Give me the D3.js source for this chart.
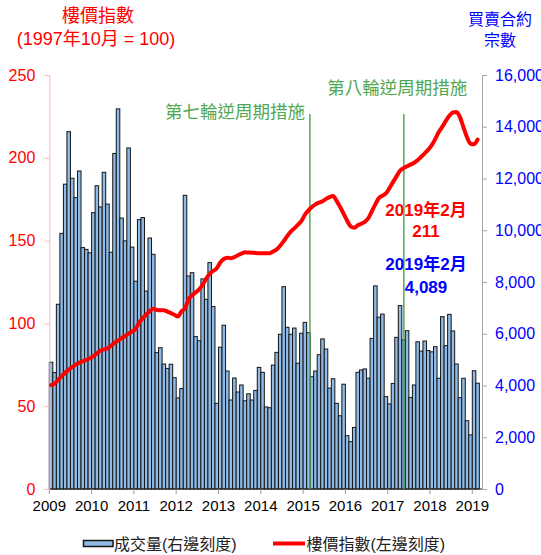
<!DOCTYPE html>
<html>
<head>
<meta charset="utf-8">
<script src="https://cdn.jsdelivr.net/npm/d3@7"></script>
<style>
  body { margin: 0; background: #fff; }
  svg { display: block; }
  text { font-family: "Liberation Sans", Arial, "Noto Sans CJK TC", sans-serif; }
</style>
</head>
<body>
<svg id="chart" width="541" height="555"></svg>
<script>
// Monthly series, Jan 2009 – Feb 2019
const firstYear = 2009;

// Sale & purchase agreements per month (right scale)
const volume = [
  4900, 4500, 7140, 9880, 11780, 13810, 12010, 11260, 12290, 9330, 9260, 9130,
  10680, 11720, 10900, 12240, 11010, 9150, 12970, 14690, 10470, 9590, 13180, 9350,
  8030, 10410, 10490, 7650, 9700, 9070, 5270, 5460, 4830, 4660, 4820, 4300,
  3520, 3880, 11350, 8230, 8360, 5890, 5730, 8120, 7330, 8750, 7050, 3310,
  5480, 6330, 4560, 3440, 4290, 3750, 4020, 3410, 3680, 3440, 3810, 4700,
  4510, 3170, 3140, 4790, 5280, 5980, 7820, 6250, 5980, 6220, 4860, 6020,
  6440, 6040, 4340, 4560, 5190, 5800, 5410, 3900, 4260, 3310, 2830, 4050,
  2060, 1830, 2380, 4510, 4600, 4640, 4280, 5820, 7850, 6640, 6760, 3570,
  3290, 4080, 5860, 7090, 5760, 6120, 3540, 4020, 5690, 5330, 5720, 5350,
  5300, 5500, 4280, 6660, 5540, 6750, 6110, 4830, 3530, 4280, 2640, 2090,
  4570, 4089
];

// Property price index, Oct 1997 = 100 (left scale)
const priceIndex = [
  62.7, 63.7, 65.8, 68.1, 70.2, 72.1, 73.6, 75.1, 76.2, 77.1, 77.9, 78.9,
  80.3, 81.8, 83.6, 84.3, 84.9, 86.5, 88.3, 89.7, 91.0, 92.4, 93.8, 95.0,
  96.8, 100.5, 103.1, 105.4, 107.3, 108.9, 108.1, 107.9, 108.0, 107.1, 106.2, 105.2,
  104.2, 107.3, 109.1, 114.5, 117.0, 118.7, 120.6, 123.2, 127.0, 130.0, 131.7, 133.3,
  136.8, 138.9, 139.7, 139.4, 140.0, 141.2, 142.1, 142.9, 142.8, 142.7, 142.5, 142.4,
  142.3, 142.3, 142.3, 143.4, 144.7, 146.9, 149.7, 152.7, 155.4, 157.4, 159.5, 161.7,
  165.6, 168.3, 170.3, 171.9, 172.9, 173.7, 175.2, 176.3, 176.9, 174.0, 170.3, 166.3,
  162.0, 158.6, 157.8, 159.2, 160.2, 161.3, 163.5, 167.7, 171.9, 175.7, 177.1, 178.5,
  181.7, 185.3, 188.8, 192.2, 193.8, 194.9, 195.9, 197.0, 198.6, 200.6, 202.7, 204.9,
  207.6, 211.4, 215.6, 218.8, 222.3, 225.4, 227.4, 227.6, 224.6, 218.4, 212.4, 208.5,
  208.2, 211
];

const yearTicks = [2009, 2010, 2011, 2012, 2013, 2014, 2015, 2016, 2017, 2018, 2019];
const indexTicks = [0, 50, 100, 150, 200, 250];
const volumeTicks = [0, 2000, 4000, 6000, 8000, 10000, 12000, 14000, 16000];

// Counter-cyclical measure rounds
const measureLabels = ["第七輪逆周期措施", "第八輪逆周期措施"];
const measureDates = ["2015-02-27", "2017-05-19"];

const latestMonthLabel = "2019年2月";
const latestIndex = priceIndex[priceIndex.length - 1];
const latestVolume = volume[volume.length - 1];

const leftTitle = ["樓價指數", "(1997年10月 = 100)"];
const rightTitle = ["買賣合約", "宗數"];
const legendLabels = ["成交量(右邊刻度)", "樓價指數(左邊刻度)"];

// ---------------------------------------------------------------
const RED = "#ff0000", BLUE = "#0000ff", GREEN = "#52a852";
const BAR_FILL = "#8fbbe6";

const monthKey = (y, m) => `${y}-${String(m).padStart(2, "0")}`;
const months = volume.map((_, i) => monthKey(firstYear + Math.floor(i / 12), (i % 12) + 1));

const plotLeft = 49.3, plotRight = 482, plotTop = 75, plotBottom = 489;
const monthWidth = 3.525;

const svg = d3.select("#chart");

const x = d3.scaleBand()
  .domain(months)
  .range([plotLeft, plotLeft + months.length * monthWidth])
  .padding(0);

const yIndex = d3.scaleLinear().domain([0, 250]).range([plotBottom, plotTop]);
const yVolume = d3.scaleLinear().domain([0, 16000]).range([plotBottom, plotTop]);

// x position of a calendar date inside its month band
function dateX(s) {
  const [Y, M, D] = s.split("-").map(Number);
  const days = new Date(Y, M, 0).getDate();
  return x(monthKey(Y, M)) + x.bandwidth() * (D - 1) / days;
}

// Bars: transaction volume
svg.append("g")
  .selectAll("rect")
  .data(volume)
  .join("rect")
  .attr("x", (d, i) => x(months[i]))
  .attr("width", x.bandwidth())
  .attr("y", d => yVolume(d))
  .attr("height", d => plotBottom - yVolume(d))
  .attr("fill", BAR_FILL)
  .attr("stroke", "#151515")
  .attr("stroke-width", 1);

// Left axis (index)
const axL = svg.append("g")
  .attr("transform", `translate(${plotLeft},0)`)
  .call(d3.axisLeft(yIndex).tickValues(indexTicks).tickSize(5).tickPadding(9));
axL.select(".domain").attr("stroke", "#ffb8b8");
axL.selectAll(".tick line").attr("stroke", "#ffb8b8");
axL.selectAll(".tick text").attr("fill", RED).attr("font-size", 16)
  .style("font-family", null);

// Right axis (volume)
const axR = svg.append("g")
  .attr("transform", `translate(${plotRight},0)`)
  .call(d3.axisRight(yVolume).tickValues(volumeTicks).tickSize(5).tickPadding(8)
    .tickFormat(d3.format(",")));
axR.select(".domain").attr("stroke", "#a6a6a6");
axR.selectAll(".tick line").attr("stroke", "#a6a6a6");
axR.selectAll(".tick text").attr("fill", BLUE).attr("font-size", 16);

// Bottom axis (years)
const axB = svg.append("g").attr("transform", `translate(0,${plotBottom})`);
axB.append("line")
  .attr("x1", plotLeft).attr("x2", plotRight)
  .attr("stroke", "#222").attr("stroke-width", 1);
const yearG = axB.selectAll("g.year")
  .data(yearTicks)
  .join("g")
  .attr("class", "year")
  .attr("transform", d => `translate(${x(monthKey(d, 1))},0)`);
yearG.append("line").attr("y2", 5).attr("stroke", "#999");
yearG.append("text")
  .attr("y", 11).attr("dy", "0.71em")
  .attr("text-anchor", "middle")
  .attr("font-size", 15)
  .attr("fill", "#000")
  .text(d => d);
axL.raise();
svg.selectAll("text").style("font-family", null);

// Measure markers
const measureLayout = [
  { anchor: "end", dx: -5, y: 118 },
  { anchor: "middle", dx: -6.5, y: 94 }
];
measureDates.forEach((dt, i) => {
  const mx = dateX(dt);
  svg.append("line")
    .attr("x1", mx).attr("x2", mx)
    .attr("y1", 114).attr("y2", plotBottom)
    .attr("stroke", GREEN).attr("stroke-width", 1.5);
  svg.append("text")
    .attr("x", mx + measureLayout[i].dx)
    .attr("y", measureLayout[i].y)
    .attr("text-anchor", measureLayout[i].anchor)
    .attr("font-size", 17.5)
    .attr("fill", GREEN)
    .text(measureLabels[i]);
});

// Price index line
const line = d3.line()
  .x((d, i) => x(months[i]) + x.bandwidth() / 2)
  .y(d => yIndex(d))
  .curve(d3.curveMonotoneX);
svg.append("path")
  .datum(priceIndex)
  .attr("d", line)
  .attr("fill", "none")
  .attr("stroke", RED)
  .attr("stroke-width", 4)
  .attr("stroke-linejoin", "round")
  .attr("stroke-linecap", "round");

// Latest values
const latestX = 426;
const latestG = svg.append("g")
  .attr("text-anchor", "middle")
  .attr("font-size", 17)
  .attr("font-weight", "bold");
latestG.append("text").attr("x", latestX).attr("y", 216).attr("fill", RED).text(latestMonthLabel);
latestG.append("text").attr("x", latestX).attr("y", 237).attr("fill", RED).text(d3.format(",")(latestIndex));
latestG.append("text").attr("x", latestX).attr("y", 270).attr("fill", BLUE).text(latestMonthLabel);
latestG.append("text").attr("x", latestX).attr("y", 293).attr("fill", BLUE).text(d3.format(",")(latestVolume));

// Axis titles
const lt = svg.append("g").attr("text-anchor", "middle").attr("fill", RED).attr("font-size", 18);
lt.append("text").attr("x", 98).attr("y", 22).text(leftTitle[0]);
lt.append("text").attr("x", 96).attr("y", 45).text(leftTitle[1]);
const rt = svg.append("g").attr("text-anchor", "middle").attr("fill", BLUE).attr("font-size", 16);
rt.append("text").attr("x", 500).attr("y", 25).text(rightTitle[0]);
rt.append("text").attr("x", 500).attr("y", 46).text(rightTitle[1]);

// Legend
const lg = svg.append("g");
lg.append("rect")
  .attr("x", 83.5).attr("y", 540.5).attr("width", 29.5).attr("height", 6)
  .attr("fill", BAR_FILL).attr("stroke", "#151515").attr("stroke-width", 1.5);
lg.append("text").attr("x", 114).attr("y", 549.5).attr("font-size", 16).attr("fill", "#222")
  .text(legendLabels[0]);
lg.append("line")
  .attr("x1", 273).attr("x2", 305).attr("y1", 543.5).attr("y2", 543.5)
  .attr("stroke", RED).attr("stroke-width", 4);
lg.append("text").attr("x", 306.5).attr("y", 549.5).attr("font-size", 16).attr("fill", "#222")
  .text(legendLabels[1]);
</script>
</body>
</html>
